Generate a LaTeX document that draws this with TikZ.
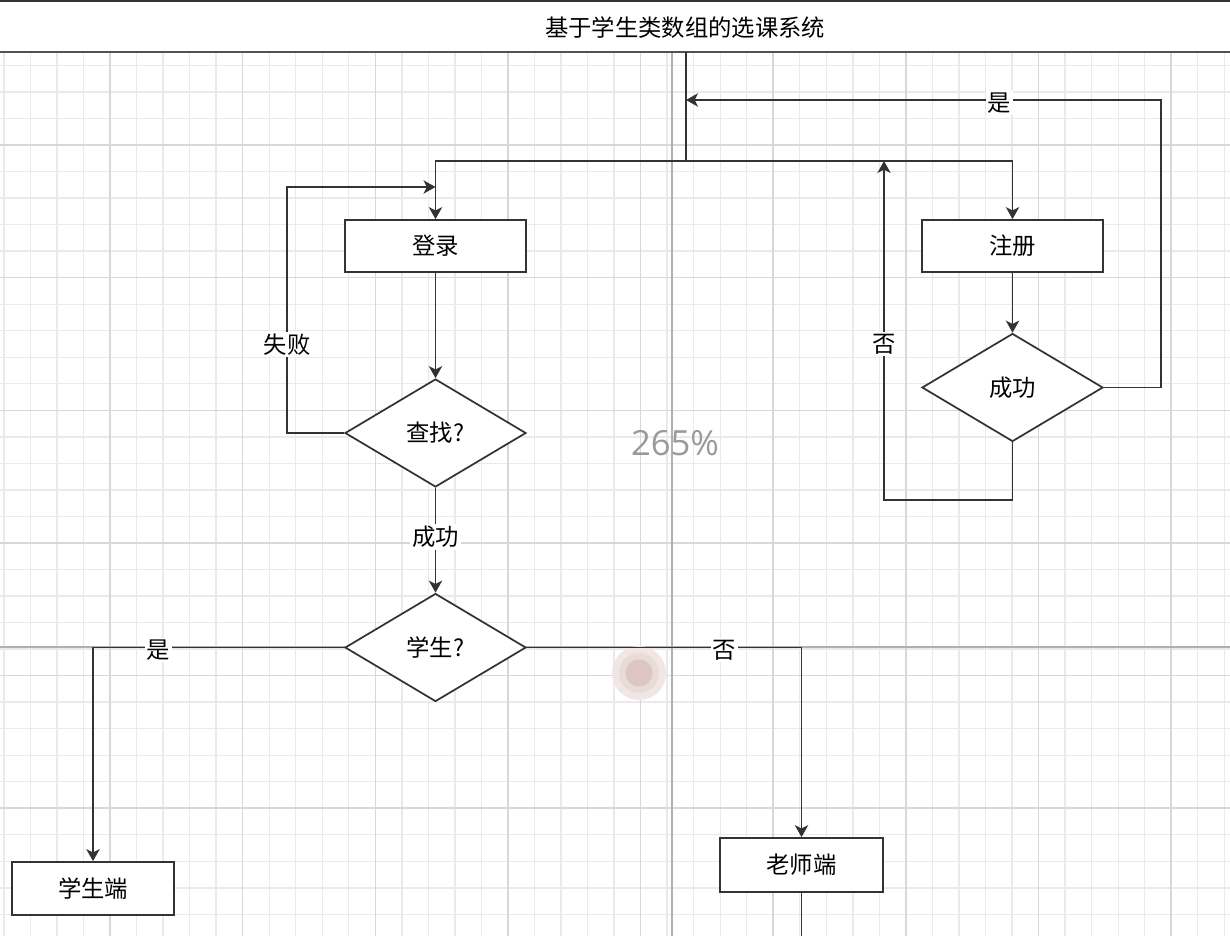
\documentclass[tikz,border=0pt]{standalone}
\usepackage{fontspec}
\newfontfamily\cjk{Noto Sans CJK SC}
\newfontfamily\zoomfont{Open Sans}
\usetikzlibrary{arrows.meta,shapes.geometric}
\definecolor{ink}{HTML}{333333}
\definecolor{gridminor}{HTML}{EAEAEA}
\definecolor{gridmajor}{HTML}{D8D8D8}
\definecolor{guide}{HTML}{B0B0B0}
\definecolor{zoomgray}{HTML}{9A9A9A}
\definecolor{touchout}{HTML}{F1E6E4}
\definecolor{touchmid}{HTML}{E9DBD8}
\definecolor{touchin}{HTML}{DCC6C1}
\begin{document}
\begin{tikzpicture}[x=0.75pt,y=-0.75pt,
  txt/.style={font=\cjk\fontsize{17.5}{20}\selectfont,text=black},
  line/.style={draw=ink,line width=1.4pt},
  flow/.style={line,-{Stealth[length=9pt,width=10pt,inset=2.5pt]}},
  procbox/.style={txt,draw=ink,line width=1.3pt,fill=white,inner sep=0pt},
  decision/.style={txt,diamond,draw=ink,line width=1.3pt,fill=white,inner sep=0pt,
    minimum width=135.75pt,minimum height=81pt},
  elabel/.style={txt,fill=white,inner sep=1.5pt}
]
\path[use as bounding box] (0,0) rectangle (1230,936);
\fill[white] (0,0) rectangle (1230,936);

% background grid
\foreach \i in {0,...,46} {
  \draw[gridminor,line width=1pt] ({3.9+26.53*\i},52) -- ({3.9+26.53*\i},936);
}
\foreach \j in {-4,...,30} {
  \draw[gridminor,line width=1pt] (0,{145+26.53*\j}) -- (1230,{145+26.53*\j});
}
\foreach \i in {0,...,8} {
  \draw[gridmajor,line width=1.2pt] ({110+132.65*\i},52) -- ({110+132.65*\i},936);
}
\foreach \j in {0,...,6} {
  \draw[gridmajor,line width=1.2pt] (0,{145+132.65*\j}) -- (1230,{145+132.65*\j});
}
% guide lines
\draw[guide,line width=1.2pt] (672,52) -- (672,936);
\draw[guide,line width=1.2pt] (0,647) -- (1230,647);

% zoom indicator and touch marker
\node[font=\zoomfont\fontsize{26}{30}\selectfont,text=zoomgray] (zoomlvl) at (675,443) {265\%};
\fill[touchout] (639,673) circle (27);
\fill[touchmid] (639,673) circle (20);
\fill[touchin] (639,673) circle (13.5);

% title bar
\fill[white] (0,0) rectangle (1230,52);
\draw[ink,line width=1.5pt] (0,1) -- (1230,1);
\draw[ink!85,line width=1.3pt] (0,52) -- (1230,52);
\node[txt] (title) at (685,28) {基于学生类数组的选课系统};

% nodes
\node[procbox,minimum width=135.75pt,minimum height=39pt] (login) at (435.5,246) {登录};
\node[procbox,minimum width=135.75pt,minimum height=39pt] (reg) at (1012.5,246) {注册};
\node[decision] (find) at (435.5,433) {查找?};
\node[decision] (regok) at (1012.5,387.5) {成功};
\node[decision] (isstu) at (435.5,647.5) {学生?};
\node[procbox,minimum width=121.5pt,minimum height=39.75pt] (stu) at (93,888.5) {学生端};
\node[procbox,minimum width=122.25pt,minimum height=40.5pt] (tea) at (801.5,865) {老师端};

% junction points
\coordinate (top) at (686,52);
\coordinate (split) at (686,161);
\coordinate (yesjoin) at (686,100);
\coordinate (nojoin) at (884,161);
\coordinate (failjoin) at (435.5,187);
\coordinate (teaout) at (801.5,936);

% connectors
\draw[line,line width=1.6pt] (top) -- (split);
\draw[flow] (split) -| (login.north);
\draw[flow] (split) -| (reg.north);
\draw[flow] (login.south) -- (find.north);
\draw[flow] (reg.south) -- (regok.north);
\draw[flow] (regok.east) -- ++(57,0) |- (yesjoin) node[elabel,pos=0.67,yshift=-2pt] {是};
\draw[flow] (regok.south) -- ++(0,58) -| (nojoin) node[elabel,pos=0.73] {否};
\draw[flow] (find.west) -- ++(-57,0) |- (failjoin) node[elabel,pos=0.18] {失败};
\draw[flow] (find.south) -- (isstu.north) node[elabel,pos=0.47] {成功};
\draw[flow] (isstu.west) -| (stu.north) node[elabel,pos=0.37,yshift=-2pt] {是};
\draw[flow] (isstu.east) -| (tea.north) node[elabel,pos=0.36,yshift=-2pt] {否};
\draw[line] (tea.south) -- (teaout);
\end{tikzpicture}
\end{document}
